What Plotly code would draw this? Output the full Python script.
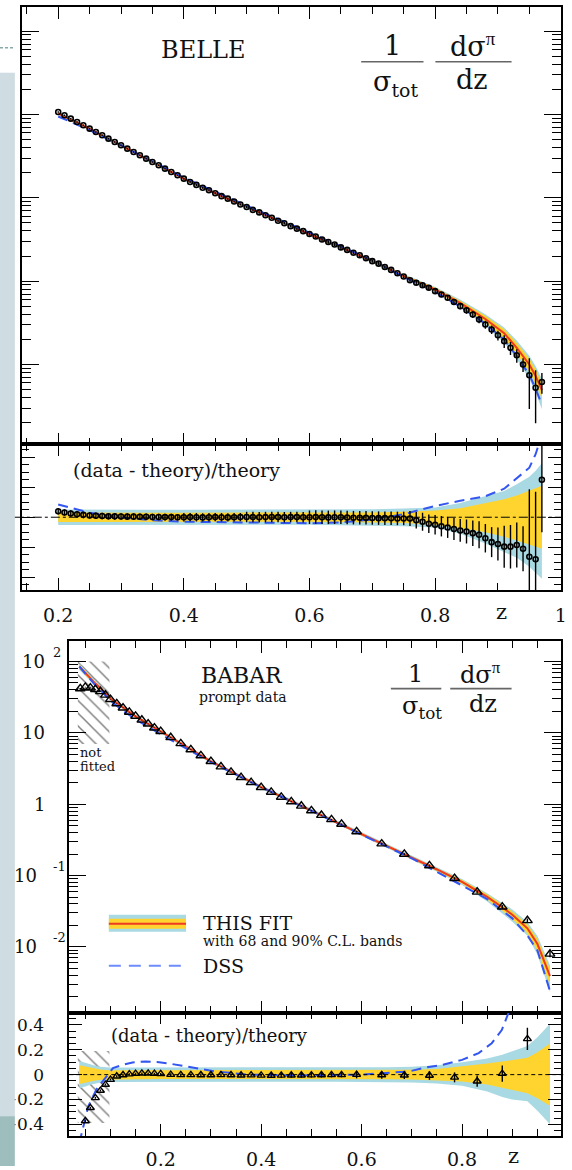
import numpy as np
import plotly.graph_objects as go

W, H = 572, 1170
SERIF = "DejaVu Serif"

# ============================ BELLE data ============================
belle_z = [0.20, 0.21, 0.22, 0.23, 0.24, 0.25, 0.26, 0.27, 0.28, 0.29,
           0.30, 0.31, 0.32, 0.33, 0.34, 0.35, 0.36, 0.37, 0.38, 0.39,
           0.40, 0.41, 0.42, 0.43, 0.44, 0.45, 0.46, 0.47, 0.48, 0.49,
           0.50, 0.51, 0.52, 0.53, 0.54, 0.55, 0.56, 0.57, 0.58, 0.59,
           0.60, 0.61, 0.62, 0.63, 0.64, 0.65, 0.66, 0.67, 0.68, 0.69,
           0.70, 0.71, 0.72, 0.73, 0.74, 0.75, 0.76, 0.77, 0.78, 0.79,
           0.80, 0.81, 0.82, 0.83, 0.84, 0.85, 0.86, 0.87, 0.88, 0.89,
           0.90, 0.91, 0.92, 0.93, 0.94, 0.95, 0.96, 0.97]
# log10 of (1/sigma_tot) dsigma/dz
belle_data_log10 = [1.03, 0.99, 0.95, 0.91, 0.87, 0.83, 0.79, 0.75, 0.71, 0.67,
                    0.63, 0.59, 0.55, 0.51, 0.47, 0.43, 0.39, 0.35, 0.31, 0.27,
                    0.23, 0.19, 0.155, 0.12, 0.09, 0.055, 0.02, -0.01, -0.045, -0.08,
                    -0.11, -0.145, -0.175, -0.21, -0.24, -0.275, -0.305, -0.34, -0.37, -0.40,
                    -0.435, -0.465, -0.50, -0.53, -0.56, -0.595, -0.625, -0.66, -0.69, -0.725,
                    -0.76, -0.79, -0.83, -0.865, -0.905, -0.945, -0.99, -1.02, -1.05, -1.08,
                    -1.12, -1.16, -1.20, -1.25, -1.30, -1.35, -1.40, -1.46, -1.52, -1.58,
                    -1.65, -1.72, -1.80, -1.89, -2.00, -2.13, -2.28, -2.21]
belle_ratio = [0.040, 0.032, 0.025, 0.020, 0.016, 0.012, 0.010, 0.008, 0.007, 0.006,
               0.005, 0.004, 0.004, 0.003, 0.003, 0.002, 0.002, 0.001, 0.001, 0.000,
               0.000, 0.001, 0.000, -0.001, 0.000, 0.001, 0.000, -0.001, 0.000, 0.001,
               0.002, 0.001, 0.000, 0.001, 0.002, 0.001, 0.000, 0.001, 0.001, 0.000,
               0.000, 0.001, 0.000, -0.001, 0.000, 0.000, -0.002, -0.003, -0.003, -0.004,
               -0.005, -0.006, -0.006, -0.007, -0.008, -0.008, -0.009, -0.020, -0.030, -0.043,
               -0.050, -0.060, -0.068, -0.078, -0.088, -0.095, -0.106, -0.117, -0.140, -0.166,
               -0.178, -0.196, -0.196, -0.185, -0.210, -0.263, -0.280, 0.250]
belle_err = [0.022] * 20 + [0.028] * 10 + [0.035] * 10 + [0.045] * 16 + \
            [0.050, 0.055, 0.060, 0.062, 0.065, 0.068, 0.070, 0.073, 0.076, 0.080,
             0.085, 0.090, 0.095, 0.100, 0.110, 0.140, 0.145, 0.150, 0.150, 0.450,
             0.450, 0.350]

belle_th_z = [0.20, 0.25, 0.30, 0.35, 0.40, 0.45, 0.50, 0.55, 0.60, 0.65,
              0.70, 0.75, 0.80, 0.84, 0.88, 0.91, 0.93, 0.95, 0.96, 0.97]
belle_th_log10 = [1.013, 0.826, 0.628, 0.43, 0.23, 0.055, -0.11, -0.275, -0.435, -0.595,
                  -0.757, -0.94, -1.098, -1.26, -1.454, -1.625, -1.80, -2.00, -2.137, -2.307]
belle_yel_up = [0.032, 0.03, 0.03, 0.03, 0.03, 0.03, 0.03, 0.03, 0.03, 0.031,
                0.032, 0.036, 0.045, 0.06, 0.095, 0.12, 0.145, 0.175, 0.19, 0.21]
belle_yel_lo = [-0.032, -0.03, -0.03, -0.03, -0.03, -0.03, -0.03, -0.03, -0.03, -0.031,
                -0.033, -0.038, -0.05, -0.072, -0.10, -0.13, -0.155, -0.18, -0.195, -0.21]
belle_blu_up = [0.052, 0.05, 0.05, 0.05, 0.05, 0.05, 0.05, 0.05, 0.05, 0.05,
                0.053, 0.058, 0.065, 0.095, 0.14, 0.175, 0.22, 0.27, 0.31, 0.36]
belle_blu_lo = [-0.052, -0.05, -0.05, -0.05, -0.05, -0.05, -0.05, -0.05, -0.05, -0.05,
                -0.055, -0.06, -0.068, -0.11, -0.175, -0.23, -0.27, -0.33, -0.37, -0.41]

belle_dss_z = [0.20, 0.25, 0.30, 0.35, 0.40, 0.50, 0.60, 0.70, 0.75, 0.80,
               0.84, 0.88, 0.91, 0.93, 0.95, 0.96, 0.97]
belle_dss_log10 = [0.976, 0.813, 0.628, 0.439, 0.243, -0.095, -0.417, -0.75, -0.949, -1.129,
                   -1.305, -1.511, -1.70, -1.90, -2.124, -2.29, -2.48]
belle_dssr_z = [0.20, 0.25, 0.30, 0.35, 0.40, 0.50, 0.60, 0.65, 0.70, 0.75,
                0.80, 0.84, 0.88, 0.91, 0.93, 0.95, 0.96, 0.97]
belle_dssr = [0.085, 0.03, 0.0, -0.02, -0.03, -0.035, -0.04, -0.035, -0.015, 0.02,
              0.075, 0.11, 0.14, 0.19, 0.26, 0.33, 0.42, 0.55]

# ============================ BABAR data ============================
babar_z = [0.04, 0.05, 0.06, 0.07, 0.08, 0.09, 0.10, 0.1125, 0.125, 0.1375,
           0.15, 0.1625, 0.175, 0.1875, 0.20, 0.22, 0.24, 0.26, 0.28, 0.30,
           0.32, 0.34, 0.36, 0.38, 0.40, 0.42, 0.44, 0.46, 0.48, 0.50,
           0.52, 0.54, 0.56, 0.59, 0.64, 0.685, 0.735, 0.785, 0.83, 0.88,
           0.93, 0.975]
babar_data_log10 = [1.62, 1.64, 1.63, 1.61, 1.58, 1.53, 1.47, 1.41, 1.35, 1.29,
                    1.235, 1.18, 1.125, 1.07, 1.02, 0.935, 0.85, 0.765, 0.68, 0.60,
                    0.525, 0.45, 0.375, 0.305, 0.235, 0.17, 0.10, 0.035, -0.025, -0.09,
                    -0.155, -0.215, -0.28, -0.385, -0.555, -0.70, -0.86, -1.04, -1.23, -1.44,
                    -1.63, -2.10]
babar_ratio = [-0.55, -0.373, -0.267, -0.187, -0.128, -0.08, -0.04, -0.013, -0.003, 0.004,
               0.008, 0.010, 0.010, 0.008, 0.006, 0.0, -0.002, -0.002, -0.003, -0.003,
               -0.002, -0.003, -0.005, -0.004, -0.006, -0.007, -0.006, -0.005, -0.005, -0.004,
               -0.003, -0.002, -0.002, 0.0, -0.003, -0.005, -0.007, -0.022, -0.053, 0.008,
               0.288, 1.04]
babar_err = [0.008] * 15 + [0.012] * 10 + [0.02] * 8 + \
            [0.03, 0.03, 0.03, 0.035, 0.04, 0.045, 0.065, 0.09, 0.2]

babar_th_z = [0.038, 0.05, 0.06, 0.07, 0.08, 0.09, 0.10, 0.15, 0.20, 0.30,
              0.40, 0.50, 0.55, 0.60, 0.65, 0.70, 0.75, 0.80, 0.85, 0.88,
              0.90, 0.93, 0.95, 0.975]
babar_th_log10 = [1.93, 1.84, 1.76, 1.69, 1.63, 1.56, 1.48, 1.23, 1.02, 0.60,
                  0.24, -0.09, -0.25, -0.42, -0.59, -0.75, -0.915, -1.09, -1.30, -1.445,
                  -1.55, -1.74, -1.96, -2.41]
babar_yel_up = [0.075, 0.065, 0.055, 0.047, 0.041, 0.037, 0.035, 0.035, 0.035, 0.035,
                0.035, 0.035, 0.035, 0.036, 0.037, 0.04, 0.045, 0.065, 0.09, 0.105,
                0.115, 0.135, 0.18, 0.25]
babar_yel_lo = [-0.075, -0.065, -0.055, -0.047, -0.041, -0.037, -0.035, -0.035, -0.035, -0.035,
                -0.035, -0.035, -0.035, -0.036, -0.037, -0.04, -0.045, -0.055, -0.08, -0.105,
                -0.125, -0.15, -0.19, -0.25]
babar_blu_up = [0.11, 0.095, 0.082, 0.072, 0.064, 0.059, 0.057, 0.057, 0.057, 0.057,
                0.057, 0.057, 0.057, 0.058, 0.06, 0.064, 0.075, 0.10, 0.13, 0.16,
                0.19, 0.23, 0.30, 0.41]
babar_blu_lo = [-0.11, -0.095, -0.082, -0.072, -0.064, -0.059, -0.057, -0.057, -0.057, -0.057,
                -0.057, -0.057, -0.057, -0.058, -0.06, -0.064, -0.072, -0.09, -0.135, -0.18,
                -0.20, -0.215, -0.29, -0.40]

babar_dss_z = [0.038, 0.05, 0.06, 0.07, 0.08, 0.09, 0.10, 0.125, 0.15, 0.20,
               0.25, 0.30, 0.40, 0.50, 0.60, 0.70, 0.75, 0.80, 0.85, 0.90,
               0.93, 0.95, 0.975]
babar_dss_log10 = [1.93, 1.83, 1.74, 1.665, 1.60, 1.53, 1.45, 1.31, 1.19, 0.98,
                   0.78, 0.59, 0.24, -0.09, -0.42, -0.76, -0.95, -1.14, -1.33, -1.60,
                   -1.84, -2.05, -2.62]
babar_dssr_z = [0.038, 0.056, 0.072, 0.092, 0.105, 0.125, 0.144, 0.17, 0.197, 0.223,
                0.249, 0.275, 0.308, 0.341, 0.374, 0.41, 0.45, 0.50, 0.55, 0.60,
                0.649, 0.695, 0.728, 0.761, 0.80, 0.833, 0.859, 0.879, 0.892, 0.91]
babar_dssr = [-0.55, -0.254, -0.12, -0.014, 0.053, 0.079, 0.098, 0.106, 0.10, 0.085,
              0.066, 0.045, 0.026, 0.013, 0.0, 0.0, -0.006, -0.005, -0.003, 0.0,
              0.013, 0.026, 0.058, 0.079, 0.119, 0.173, 0.253, 0.359, 0.493, 0.75]

# "not fitted" region of the BABAR panels
notfit_z = [0.035, 0.098]
notfit_main = [7.0, 100.0]
notfit_ratio = [-0.39, 0.19]

# ============================ styles ============================
C_BLUE_BAND = "#a9d9e3"
C_YEL_BAND = "#ffd42e"
C_RED = "#ee3a22"
C_DSS = "#3355f0"
DSS_DASH = "10px,6px"
PI = '<span style="font-family:Liberation Serif">\u03c0</span>'


def px(x):
    return x / W


def py(y):
    return 1 - y / H


fig = go.Figure()


def band(z, lo, hi):
    zz = list(z) + list(z)[::-1]
    yy = list(hi) + list(lo)[::-1]
    return zz, yy


def add_panel(z, data_log, ratio, err, th_z, th_log, yu, yl, bu, bl,
              dss_z, dss_log, dssr_z, dssr, axm, axr, symbol, msize_m, msize_r, mlw):
    xm, ym = axm
    xr, yr = axr
    th = 10 ** np.array(th_log)
    # main bands
    zz, yy = band(th_z, th * (1 + np.array(bl)), th * (1 + np.array(bu)))
    fig.add_trace(go.Scatter(x=zz, y=yy, xaxis=xm, yaxis=ym, fill="toself", fillcolor=C_BLUE_BAND,
                             line=dict(width=0), mode="lines", hoverinfo="skip"))
    zz, yy = band(th_z, th * (1 + np.array(yl)), th * (1 + np.array(yu)))
    fig.add_trace(go.Scatter(x=zz, y=yy, xaxis=xm, yaxis=ym, fill="toself", fillcolor=C_YEL_BAND,
                             line=dict(width=0), mode="lines", hoverinfo="skip"))
    fig.add_trace(go.Scatter(x=th_z, y=th, xaxis=xm, yaxis=ym, mode="lines",
                             line=dict(color=C_RED, width=2)))
    fig.add_trace(go.Scatter(x=dss_z, y=10 ** np.array(dss_log), xaxis=xm, yaxis=ym, mode="lines",
                             line=dict(color=C_DSS, width=2, dash=DSS_DASH)))
    th_at = 10 ** np.interp(z, th_z, th_log)
    fig.add_trace(go.Scatter(x=z, y=10 ** np.array(data_log), xaxis=xm, yaxis=ym, mode="markers",
                             marker=dict(symbol=symbol, size=msize_m, color="black",
                                         line=dict(width=mlw, color="black")),
                             error_y=dict(type="data", array=np.array(err) * th_at, width=0,
                                          thickness=1.4, color="black")))
    # ratio bands
    zz, yy = band(th_z, bl, bu)
    fig.add_trace(go.Scatter(x=zz, y=yy, xaxis=xr, yaxis=yr, fill="toself", fillcolor=C_BLUE_BAND,
                             line=dict(width=0), mode="lines", hoverinfo="skip"))
    zz, yy = band(th_z, yl, yu)
    fig.add_trace(go.Scatter(x=zz, y=yy, xaxis=xr, yaxis=yr, fill="toself", fillcolor=C_YEL_BAND,
                             line=dict(width=0), mode="lines", hoverinfo="skip"))
    fig.add_trace(go.Scatter(x=dssr_z, y=dssr, xaxis=xr, yaxis=yr, mode="lines",
                             line=dict(color=C_DSS, width=2, dash=DSS_DASH)))
    fig.add_trace(go.Scatter(x=z, y=ratio, xaxis=xr, yaxis=yr, mode="markers",
                             marker=dict(symbol=symbol, size=msize_r, color="black",
                                         line=dict(width=mlw, color="black")),
                             error_y=dict(type="data", array=err, width=0, thickness=1.4,
                                          color="black")))


# hatched "not fitted" regions (drawn first, below everything)
hz = [notfit_z[0], notfit_z[1], notfit_z[1], notfit_z[0], notfit_z[0]]
for ax, yv in ((("x3", "y3"), notfit_main), (("x4", "y4"), notfit_ratio)):
    fig.add_trace(go.Scatter(
        x=hz, y=[yv[0], yv[0], yv[1], yv[1], yv[0]], xaxis=ax[0], yaxis=ax[1],
        mode="lines", line=dict(width=0), fill="toself", fillcolor="rgba(255,255,255,0)",
        fillpattern=dict(shape="\\", fgcolor="black", size=9, solidity=0.16, fillmode="overlay"),
        hoverinfo="skip"))

add_panel(belle_z, belle_data_log10, belle_ratio, belle_err, belle_th_z, belle_th_log10,
          belle_yel_up, belle_yel_lo, belle_blu_up, belle_blu_lo,
          belle_dss_z, belle_dss_log10, belle_dssr_z, belle_dssr,
          ("x", "y"), ("x2", "y2"), "circle-open", 5, 5, 1.6)
add_panel(babar_z, babar_data_log10, babar_ratio, babar_err, babar_th_z, babar_th_log10,
          babar_yel_up, babar_yel_lo, babar_blu_up, babar_blu_lo,
          babar_dss_z, babar_dss_log10, babar_dssr_z, babar_dssr,
          ("x3", "y3"), ("x4", "y4"), "triangle-up-open", 8.5, 7, 1.4)

# ============================ axes ============================
TICKFONT = dict(family=SERIF, size=19, color="#111111")


def xaxis(dom, rng, anchor, labels, standoff):
    return dict(domain=dom, range=rng, anchor=anchor, showline=True, linecolor="black",
                linewidth=1.5, mirror="allticks", ticks="inside", ticklen=12, tickwidth=1.4,
                tickcolor="black", tickmode="linear", tick0=0, dtick=0.2,
                minor=dict(ticks="inside", ticklen=7, tickwidth=1.2, tickcolor="black",
                           tickmode="linear", tick0=0, dtick=0.05),
                showgrid=False, zeroline=False, showticklabels=labels, tickfont=TICKFONT,
                ticklabelstandoff=standoff, ticklabeloverflow="allow", fixedrange=True)


def ylog(dom, rng, anchor):
    return dict(domain=dom, range=rng, anchor=anchor, type="log", showline=True,
                linecolor="black", linewidth=1.5, mirror="allticks", ticks="inside",
                ticklen=17, tickwidth=1.4, tickcolor="black", tickmode="linear", tick0=0, dtick=1,
                minor=dict(ticks="inside", ticklen=9, tickwidth=1.2, tickcolor="black", dtick="D1"),
                showgrid=False, zeroline=False, showticklabels=False, fixedrange=True)


def yrat(dom, rng, anchor, labels):
    d = dict(domain=dom, range=rng, anchor=anchor, showline=True, linecolor="black",
             linewidth=1.5, mirror="allticks", ticks="inside", ticklen=13, tickwidth=1.4,
             tickcolor="black", minor=dict(ticks="inside", ticklen=7, tickwidth=1.2,
                                            tickcolor="black", tickmode="linear", tick0=0,
                                            dtick=0.05),
             showgrid=False, zeroline=False, showticklabels=labels, fixedrange=True)
    if labels:
        d.update(tickmode="array", tickvals=[-0.4, -0.2, 0, 0.2, 0.4],
                 ticktext=["\u22120.4", "\u22120.2", "0", "0.2", "0.4"],
                 tickfont=dict(family=SERIF, size=17, color="#111111"), ticklabelstandoff=20,
                 ticklabeloverflow="allow")
    else:
        d.update(tickmode="linear", tick0=0, dtick=0.2)
    return d


belle_xd = [px(22), px(567)]
babar_xd = [px(70), px(567)]
fig.update_layout(
    xaxis=xaxis(belle_xd, [0.142, 1.0005], "y", False, 6),
    yaxis=ylog([py(446), py(7)], [-2.96, 2.29], "x"),
    xaxis2=xaxis(belle_xd, [0.142, 1.0005], "y2", True, 7),
    yaxis2=yrat([py(592), py(446)], [-0.485, 0.485], "x2", False),
    xaxis3=xaxis(babar_xd, [0.018, 0.997], "y3", False, 6),
    yaxis3=ylog([py(1016), py(643)], [-2.92, 2.29], "x3"),
    xaxis4=xaxis(babar_xd, [0.018, 0.997], "y4", True, 5),
    yaxis4=yrat([py(1140), py(1016)], [-0.495, 0.5], "x4", True),
)

# ============================ shapes ============================
shapes = []
# slide background strip on the left
shapes.append(dict(type="rect", xref="paper", yref="paper", x0=0, x1=px(15), y0=py(1120), y1=py(73),
                   fillcolor="#cfdce1", line=dict(width=0), layer="above"))
shapes.append(dict(type="rect", xref="paper", yref="paper", x0=0, x1=px(15), y0=0, y1=py(1120),
                   fillcolor="#9ebdbd", line=dict(width=0), layer="above"))
shapes.append(dict(type="line", xref="paper", yref="paper", x0=0, x1=px(15), y0=py(48), y1=py(48),
                   line=dict(color="#8aa9a9", width=1.5, dash="3px,2px"), layer="above"))
# zero lines in ratio panels
shapes.append(dict(type="line", xref="paper", yref="y2", x0=px(15), x1=px(567), y0=0, y1=0,
                   line=dict(color="black", width=1, dash="dashdot"), layer="above"))
shapes.append(dict(type="line", xref="paper", yref="y4", x0=px(70), x1=px(571), y0=0, y1=0,
                   line=dict(color="black", width=1, dash="4px,3px"), layer="above"))
# fraction bars of the axis title
for x0, x1, y in ((365, 428, 62), (440, 517, 62), (395, 446, 691), (455, 517, 691)):
    shapes.append(dict(type="line", xref="paper", yref="paper", x0=px(x0), x1=px(x1),
                       y0=py(y), y1=py(y), line=dict(color="#666666", width=1.6)))
# legend symbols
shapes.append(dict(type="rect", xref="paper", yref="paper", x0=px(110), x1=px(188),
                   y0=py(935), y1=py(918), fillcolor=C_BLUE_BAND, line=dict(width=0)))
shapes.append(dict(type="rect", xref="paper", yref="paper", x0=px(110), x1=px(188),
                   y0=py(932), y1=py(922), fillcolor=C_YEL_BAND, line=dict(width=0)))
shapes.append(dict(type="line", xref="paper", yref="paper", x0=px(110), x1=px(188),
                   y0=py(927), y1=py(927), line=dict(color=C_RED, width=2)))
shapes.append(dict(type="line", xref="paper", yref="paper", x0=px(110), x1=px(188),
                   y0=py(969), y1=py(969), line=dict(color="#6f8cff", width=2, dash="12px,8px")))
fig.update_layout(shapes=shapes)

# ============================ annotations ============================
anns = []


def ann(text, x, y, size, xanchor="center", yanchor="middle", color="#111111"):
    anns.append(dict(text=text, x=px(x), y=py(y), xref="paper", yref="paper", showarrow=False,
                     font=dict(family=SERIF, size=size, color=color), xanchor=xanchor,
                     yanchor=yanchor))


ann("BELLE", 206, 50, 24)
ann("1", 397, 46, 27)
ann("\u03c3<sub>tot</sub>", 400, 84, 27)
ann("d\u03c3<sup>" + PI + "</sup>", 478, 45, 27)
ann("dz", 477, 80, 27)
ann("(data - theory)/theory", 72, 472, 19, xanchor="left")
ann("z", 507, 614, 21)

ann("BABAR", 245, 678, 22)
ann("prompt data", 246, 699, 14)
ann("1", 420, 676, 24)
ann("\u03c3<sub>tot</sub>", 426, 710, 24)
ann("d\u03c3<sup>" + PI + "</sup>", 486, 676, 24)
ann("dz", 488, 706, 24)
ann("not", 79, 755, 13, xanchor="left")
ann("fitted", 79, 769, 13, xanchor="left")
ann("THIS FIT", 203, 926, 19, xanchor="left")
ann("with 68 and 90% C.L. bands", 203, 944, 14, xanchor="left")
ann("DSS", 203, 969, 19, xanchor="left")
ann("(data - theory)/theory", 110, 1039, 18, xanchor="left")
ann("z", 519, 1160, 21)

# BABAR log-axis labels (10 with exponent)
babar_ylab_pow = [2, 1, 0, -1, -2]
babar_ylab_base = ["10", "10", "1", "10", "10"]
babar_ylab_exp = ["2", "", "", "-1", "-2"]
babar_ylab_right = [48, 48, 47, 39, 39]
for p, base, ex, xr in zip(babar_ylab_pow, babar_ylab_base, babar_ylab_exp, babar_ylab_right):
    anns.append(dict(text=base, x=px(xr), y=p, xref="paper", yref="y3", showarrow=False,
                     font=dict(family=SERIF, size=18, color="#111111"), xanchor="right",
                     yanchor="middle"))
    if ex:
        anns.append(dict(text=ex, x=px(52), y=p, xref="paper", yref="y3", showarrow=False,
                         font=dict(family=SERIF, size=13, color="#111111"), xanchor="left",
                         yanchor="middle", yshift=9))
fig.update_layout(annotations=anns)

fig.update_layout(width=W, height=H, margin=dict(l=0, r=0, t=0, b=0), showlegend=False,
                  paper_bgcolor="white", plot_bgcolor="white")

fig.write_html("out.html")
